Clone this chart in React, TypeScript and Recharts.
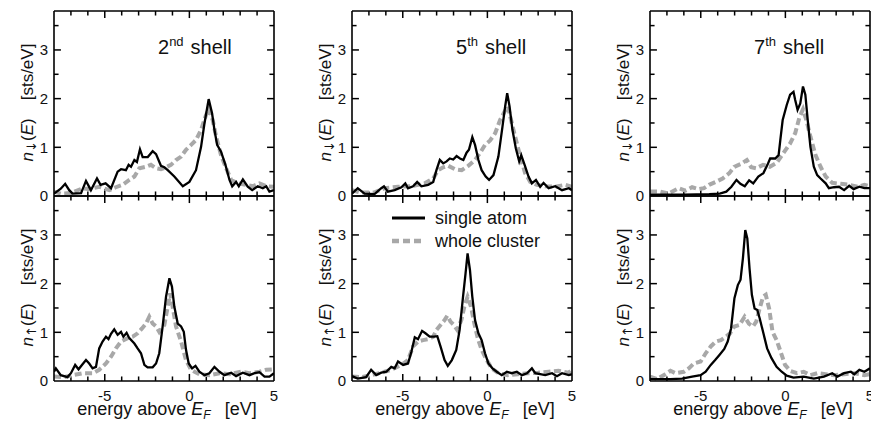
import React from 'react';
import { LineChart, Line, XAxis, YAxis, Legend, ReferenceLine } from 'recharts';

// energy axis (eV) and DOS axis (sts/eV) ticks
const xLabels = [-5, 0, 5];
const xTickMarks = [-7, -6, -5, -4, -3, -2, -1, 0, 1, 2, 3, 4];
const yLabels = [0, 1, 2, 3];
const yTickMarks = [0.5, 1, 1.5, 2, 2.5, 3, 3.5];
const shellNum = ['2', '5', '7'];
const shellSuffix = ['nd', 'th', 'th'];
const legendOrder = ['single atom', 'whole cluster'];

// [energy, n(E)]
const dn2Atom = [[-8,0.05],[-7.6,0.15],[-7.34,0.25],[-7.1,0.12],[-6.9,0.05],[-6.4,0.06],[-6.11,0.31],[-5.82,0.12],[-5.46,0.36],[-5.25,0.23],[-4.95,0.26],[-4.63,0.16],[-4.24,0.5],[-4.04,0.55],[-3.75,0.53],[-3.59,0.64],[-3.45,0.6],[-3.25,0.74],[-3.1,0.7],[-2.92,0.96],[-2.76,0.8],[-2.46,0.8],[-2.17,0.92],[-1.97,0.86],[-1.68,0.62],[-1.48,0.59],[-1.28,0.53],[-0.89,0.4],[-0.39,0.2],[0,0.29],[0.39,0.53],[0.69,1.01],[0.89,1.49],[1.14,1.99],[1.34,1.7],[1.48,1.36],[1.64,1.05],[1.87,0.91],[2.13,0.64],[2.37,0.33],[2.53,0.2],[2.76,0.29],[2.92,0.2],[3.16,0.34],[3.45,0.19],[3.71,0.12],[4.04,0.2],[4.34,0.16],[4.54,0.2],[4.73,0.09],[5,0.12]];
const dn2Cluster = [[-8,0.09],[-7.6,0.05],[-7.0,0.06],[-6.3,0.16],[-5.9,0.14],[-5.33,0.19],[-4.73,0.12],[-4.35,0.18],[-3.95,0.23],[-3.55,0.33],[-3.25,0.4],[-2.96,0.57],[-2.56,0.6],[-2.27,0.64],[-1.97,0.57],[-1.68,0.55],[-1.38,0.59],[-1.09,0.64],[-0.79,0.74],[-0.49,0.81],[-0.2,0.95],[0.1,1.05],[0.39,1.15],[0.69,1.36],[0.95,1.63],[1.14,1.8],[1.38,1.56],[1.58,1.22],[1.87,0.84],[2.17,0.57],[2.47,0.33],[2.86,0.26],[3.35,0.23],[3.75,0.2],[4.14,0.26],[4.54,0.2],[5,0.19]];
const up2Atom = [[-8,0.19],[-7.89,0.26],[-7.6,0.12],[-7.2,0.08],[-7.0,0.16],[-6.75,0.33],[-6.55,0.24],[-6.35,0.33],[-6.11,0.43],[-5.92,0.36],[-5.72,0.26],[-5.52,0.29],[-5.33,0.67],[-5.13,0.81],[-4.93,0.91],[-4.78,0.86],[-4.63,0.97],[-4.44,1.06],[-4.24,0.95],[-4.04,1.01],[-3.9,0.91],[-3.71,0.99],[-3.55,0.88],[-3.25,0.77],[-3.06,0.67],[-2.86,0.57],[-2.66,0.33],[-2.47,0.28],[-2.17,0.28],[-1.97,0.36],[-1.78,0.57],[-1.58,1.12],[-1.38,1.73],[-1.18,2.11],[-1.03,1.94],[-0.89,1.53],[-0.69,1.18],[-0.49,1.12],[-0.33,1.01],[-0.2,0.64],[-0.04,0.36],[0.16,0.26],[0.36,0.31],[0.59,0.19],[0.89,0.12],[1.18,0.16],[1.48,0.29],[1.78,0.19],[2.07,0.12],[2.47,0.17],[2.76,0.1],[3.16,0.17],[3.55,0.12],[3.85,0.16],[4.14,0.18],[4.44,0.09],[4.73,0.09],[5,0.16]];
const up2Cluster = [[-8,0.09],[-7.4,0.08],[-6.9,0.12],[-6.3,0.16],[-5.7,0.16],[-5.33,0.23],[-4.93,0.36],[-4.63,0.5],[-4.34,0.67],[-4.04,0.81],[-3.65,0.88],[-3.35,0.91],[-3.06,0.98],[-2.8,1.08],[-2.56,1.18],[-2.37,1.32],[-2.17,1.18],[-1.97,1.12],[-1.78,1.01],[-1.48,1.15],[-1.28,1.53],[-1.14,1.8],[-0.99,1.53],[-0.79,1.12],[-0.49,0.81],[-0.2,0.43],[0.1,0.23],[0.59,0.14],[1.18,0.12],[1.78,0.16],[2.37,0.14],[3.06,0.19],[3.55,0.16],[4.14,0.19],[4.54,0.23],[5,0.24]];

const dn5Atom = [[-8,0.05],[-7.66,0.16],[-7.26,0.05],[-6.67,0.04],[-6.27,0.16],[-6.11,0.2],[-5.88,0.09],[-5.48,0.12],[-5.08,0.18],[-4.85,0.26],[-4.69,0.16],[-4.39,0.2],[-4.15,0.29],[-3.9,0.2],[-3.5,0.23],[-3.2,0.29],[-3.01,0.53],[-2.81,0.74],[-2.61,0.67],[-2.41,0.71],[-2.22,0.77],[-2.02,0.75],[-1.82,0.82],[-1.62,0.77],[-1.42,0.74],[-1.23,0.89],[-1.09,0.95],[-0.89,1.21],[-0.73,1.05],[-0.53,0.74],[-0.34,0.53],[-0.1,0.4],[0.1,0.33],[0.36,0.43],[0.65,0.81],[0.89,1.42],[1.05,1.84],[1.17,2.11],[1.31,1.84],[1.48,1.36],[1.68,0.98],[1.88,0.71],[2.0,0.84],[2.2,0.64],[2.43,0.4],[2.63,0.26],[2.87,0.33],[3.12,0.19],[3.32,0.27],[3.62,0.16],[4.01,0.2],[4.41,0.12],[4.81,0.16],[5,0.12]];
const dn5Cluster = [[-8,0.12],[-7.5,0.07],[-6.7,0.07],[-6.07,0.16],[-5.28,0.19],[-4.49,0.2],[-3.7,0.26],[-3.2,0.36],[-2.91,0.53],[-2.61,0.59],[-2.31,0.62],[-1.92,0.55],[-1.52,0.53],[-1.13,0.62],[-0.73,0.74],[-0.44,0.88],[-0.14,1.05],[0.16,1.14],[0.46,1.29],[0.75,1.56],[1.01,1.73],[1.21,1.84],[1.4,1.56],[1.64,1.22],[1.94,0.81],[2.23,0.47],[2.53,0.29],[2.92,0.23],[3.42,0.2],[4.01,0.19],[4.6,0.23],[5,0.19]];
const up5Atom = [[-8,0.1],[-7.66,0.05],[-7.17,0.08],[-6.87,0.23],[-6.57,0.12],[-6.27,0.17],[-5.97,0.19],[-5.68,0.29],[-5.48,0.26],[-5.28,0.4],[-4.98,0.33],[-4.69,0.36],[-4.49,0.6],[-4.29,0.9],[-4.1,0.86],[-3.86,1.03],[-3.66,0.98],[-3.41,0.91],[-3.16,0.91],[-2.96,0.92],[-2.77,0.71],[-2.53,0.43],[-2.34,0.31],[-2.1,0.43],[-1.84,0.64],[-1.64,1.05],[-1.44,1.73],[-1.29,2.21],[-1.17,2.62],[-1.03,2.28],[-0.89,1.73],[-0.73,1.25],[-0.53,0.98],[-0.34,0.84],[-0.14,0.57],[0.06,0.36],[0.3,0.26],[0.55,0.19],[0.85,0.12],[1.15,0.19],[1.44,0.16],[1.74,0.19],[2.04,0.12],[2.34,0.16],[2.63,0.26],[2.83,0.16],[3.12,0.14],[3.42,0.12],[3.82,0.16],[4.11,0.1],[4.41,0.16],[4.81,0.12],[5,0.14]];
const up5Cluster = [[-8,0.09],[-7.4,0.08],[-6.87,0.12],[-6.27,0.17],[-5.68,0.23],[-5.08,0.33],[-4.69,0.43],[-4.39,0.71],[-4.1,0.81],[-3.8,0.84],[-3.5,0.86],[-3.2,0.91],[-3.01,1.05],[-2.77,1.15],[-2.53,1.25],[-2.37,1.34],[-2.18,1.22],[-1.98,1.15],[-1.78,1.05],[-1.54,1.25],[-1.34,1.56],[-1.17,1.73],[-0.97,1.53],[-0.77,1.18],[-0.57,0.88],[-0.34,0.64],[-0.04,0.43],[0.26,0.26],[0.65,0.16],[1.2,0.12],[1.8,0.14],[2.4,0.16],[3.0,0.17],[3.62,0.19],[4.2,0.21],[4.8,0.17],[5,0.23]];

const dn7Atom = [[-8,0.03],[-6,0.03],[-4.5,0.04],[-3.88,0.05],[-3.49,0.09],[-3.19,0.19],[-2.89,0.33],[-2.66,0.25],[-2.4,0.2],[-2.14,0.32],[-1.9,0.26],[-1.6,0.4],[-1.3,0.47],[-1.06,0.64],[-0.9,0.77],[-0.6,0.77],[-0.4,0.84],[-0.3,1.15],[-0.16,1.56],[0.08,1.87],[0.28,2.08],[0.48,2.14],[0.58,1.97],[0.72,1.77],[0.88,1.9],[1.04,2.25],[1.18,2.08],[1.32,1.56],[1.48,1.01],[1.68,0.6],[1.88,0.43],[2.08,0.36],[2.38,0.26],[2.57,0.16],[2.87,0.18],[3.17,0.19],[3.47,0.12],[3.77,0.21],[4.03,0.14],[4.37,0.19],[4.67,0.16],[5,0.16]];
const dn7Cluster = [[-8,0.09],[-7.4,0.09],[-6.9,0.05],[-6.31,0.16],[-5.91,0.11],[-5.51,0.18],[-5.11,0.14],[-4.81,0.16],[-4.51,0.23],[-4.11,0.29],[-3.71,0.36],[-3.31,0.47],[-3.02,0.6],[-2.62,0.66],[-2.28,0.74],[-2.02,0.59],[-1.72,0.57],[-1.32,0.64],[-0.92,0.6],[-0.52,0.68],[-0.12,0.88],[0.28,1.08],[0.58,1.29],[0.84,1.63],[1.04,1.78],[1.24,1.56],[1.48,1.22],[1.78,0.84],[2.08,0.6],[2.38,0.4],[2.77,0.27],[3.27,0.25],[3.77,0.23],[4.27,0.19],[4.67,0.23],[5,0.2]];
const up7Atom = [[-8,0.04],[-6.8,0.04],[-6.11,0.05],[-5.51,0.09],[-5.01,0.12],[-4.71,0.19],[-4.41,0.33],[-4.15,0.43],[-3.91,0.53],[-3.61,0.66],[-3.41,0.81],[-3.21,1.08],[-3.01,1.7],[-2.81,1.97],[-2.65,2.08],[-2.51,2.52],[-2.37,3.1],[-2.25,2.93],[-2.12,2.32],[-1.98,1.77],[-1.82,1.49],[-1.66,1.46],[-1.52,1.29],[-1.32,1.01],[-1.08,0.67],[-0.82,0.47],[-0.52,0.29],[-0.22,0.19],[0.08,0.11],[0.48,0.07],[1.08,0.09],[1.68,0.05],[2.28,0.09],[2.77,0.16],[3.07,0.09],[3.47,0.16],[3.87,0.19],[4.07,0.14],[4.37,0.23],[4.67,0.19],[5,0.26]];
const up7Cluster = [[-8,0.09],[-7.58,0.04],[-7.09,0.14],[-6.79,0.21],[-6.49,0.16],[-6.0,0.19],[-5.71,0.26],[-5.41,0.36],[-5.01,0.4],[-4.71,0.57],[-4.41,0.71],[-4.11,0.81],[-3.81,0.84],[-3.51,0.91],[-3.27,0.98],[-3.01,1.12],[-2.71,1.15],[-2.41,1.32],[-2.16,1.18],[-1.92,1.12],[-1.72,1.22],[-1.52,1.49],[-1.32,1.73],[-1.16,1.77],[-0.96,1.49],[-0.76,1.01],[-0.52,0.84],[-0.28,0.6],[-0.02,0.33],[0.28,0.21],[0.68,0.16],[1.08,0.19],[1.48,0.12],[1.88,0.16],[2.38,0.14],[2.87,0.12],[3.47,0.14],[4.07,0.16],[4.67,0.12],[5,0.14]];

const FONT = '"Liberation Sans", Arial, Helvetica, sans-serif';
const INK = '#111';
const GRAY = '#a8a8a8';
const PLOT_W = 220;
const COL_LEFT = [54, 352, 650];
const X_DOMAIN = [-8, 5];
const Y_DOMAIN = [0, 3.8];
const frame = { stroke: '#000', strokeWidth: 1.6 };
const tickFont = { fill: INK, fontSize: 15, fontFamily: FONT };
// inward tick lengths in axis units (about 7px major / 4.5px minor)
const X_TICK = { major: 0.41, minor: 0.27 };
const Y_TICK = { major: 0.145, minor: 0.093 };

const toRows = (pts: number[][]) => pts.map(([e, n]) => ({ e, n }));

// tick marks on all four sides, pointing into the frame
const tickSegments = () => {
  const segs: any[] = [];
  xTickMarks.forEach((v) => {
    const len = v % 5 === 0 ? Y_TICK.major : Y_TICK.minor;
    segs.push([{ x: v, y: Y_DOMAIN[0] }, { x: v, y: Y_DOMAIN[0] + len }]);
    segs.push([{ x: v, y: Y_DOMAIN[1] }, { x: v, y: Y_DOMAIN[1] - len }]);
  });
  yTickMarks.forEach((v) => {
    const len = Number.isInteger(v) ? X_TICK.major : X_TICK.minor;
    segs.push([{ x: X_DOMAIN[0], y: v }, { x: X_DOMAIN[0] + len, y: v }]);
    segs.push([{ x: X_DOMAIN[1], y: v }, { x: X_DOMAIN[1] - len, y: v }]);
  });
  return segs;
};
const segments = tickSegments();

const yLabel = (arrow: string) => (p: any) => {
  const { x, y, width, height } = p.viewBox;
  const bx = x + width - 27.5 + 6;
  const cy = y + height / 2 - 1;
  return (
    <text x={bx} y={cy} transform={`rotate(-90 ${bx} ${cy})`} textAnchor="middle" fontSize={17} fontFamily={FONT} fill={INK}>
      <tspan fontStyle="italic">n</tspan>
      <tspan fontSize={13} fontFamily="DejaVu Sans" dy={3}>{arrow}</tspan>
      <tspan dy={-3}>(</tspan>
      <tspan fontStyle="italic">E</tspan>
      <tspan>)</tspan>
      <tspan dx={18}>[sts/eV]</tspan>
    </text>
  );
};

const xLabel = (p: any) => {
  const { x, y, width } = p.viewBox;
  return (
    <text x={x + width / 2 + 3} y={y + 34} textAnchor="middle" fontSize={18} fontFamily={FONT} fill={INK}>
      <tspan>energy above</tspan>
      <tspan dx={5} fontStyle="italic">E</tspan>
      <tspan fontStyle="italic" fontSize={12} dy={4}>F</tspan>
      <tspan dx={14} dy={-4}>[eV]</tspan>
    </text>
  );
};

const titleLabel = (col: number) => (p: any) => {
  const { x, y } = p.viewBox;
  return (
    <text x={x + 104} y={y + 44} fontSize={20} fontFamily={FONT} fill={INK}>
      <tspan>{shellNum[col]}</tspan>
      <tspan fontSize={13} dy={-8}>{shellSuffix[col]}</tspan>
      <tspan dx={7} dy={8}>shell</tspan>
    </text>
  );
};

const seriesLook: Record<string, any> = {
  'single atom': { stroke: '#000', width: 3 },
  'whole cluster': { stroke: GRAY, width: 4.5, dash: '7 4' },
};

const renderLegend = (props: any) => {
  const items = [...(props.payload || [])].sort(
    (a: any, b: any) => legendOrder.indexOf(a.value) - legendOrder.indexOf(b.value)
  );
  return (
    <svg width={200} height={60}>
      {items.map((it: any, i: number) => {
        const look = seriesLook[it.value];
        const cy = 18 + i * 23;
        return (
          <g key={it.value}>
            <line x1={2} x2={35} y1={cy} y2={cy} stroke={look.stroke} strokeWidth={look.width} strokeDasharray={look.dash} />
            <text x={45} y={cy + 6} fontSize={18} fontFamily={FONT} fill={INK}>{it.value}</text>
          </g>
        );
      })}
    </svg>
  );
};

function Panel({ col, spin, atom, cluster, legend }: any) {
  const isTop = spin === 'dn';
  const left = COL_LEFT[col] - 62;
  const top = isTop ? 0 : 190;
  const height = isTop ? 210 : 232;
  const margin = isTop
    ? { top: 10, right: 7, bottom: 13, left: 0 }
    : { top: 5, right: 7, bottom: 0, left: 0 };
  const width = 62 + PLOT_W + 8;
  const xCommon = { type: 'number' as const, domain: X_DOMAIN, allowDataOverflow: true, interval: 0 as const, stroke: '#000', tickLine: false };
  const yCommon = { type: 'number' as const, domain: Y_DOMAIN, allowDataOverflow: true, interval: 0 as const, stroke: '#000', tickLine: false };
  return (
    <div style={{ position: 'absolute', left, top }}>
      <LineChart width={width} height={height} margin={margin}>
        <XAxis xAxisId="b" {...xCommon} dataKey="e" orientation="bottom" ticks={xLabels} height={isTop ? 1 : 41}
          tickSize={0} tickMargin={9} tick={isTop ? false : tickFont} axisLine={frame}
          label={isTop ? undefined : xLabel} />
        <XAxis xAxisId="t" {...xCommon} orientation="top" ticks={xLabels} height={1}
          tick={false} axisLine={frame} label={isTop ? titleLabel(col) : undefined} />
        <YAxis yAxisId="l" {...yCommon} ticks={yLabels} width={62}
          tickSize={0} tickMargin={6} tick={tickFont} axisLine={frame}
          label={yLabel(isTop ? '↓' : '↑')} />
        <YAxis yAxisId="r" {...yCommon} orientation="right" ticks={yLabels} width={1}
          tick={false} axisLine={frame} />
        {segments.map((seg, i) => (
          <ReferenceLine key={i} xAxisId="b" yAxisId="l" segment={seg} ifOverflow="visible"
            stroke="#000" strokeWidth={1.5} />
        ))}
        <Line xAxisId="b" yAxisId="l" data={toRows(cluster)} dataKey="n" name="whole cluster" type="linear"
          stroke={GRAY} strokeWidth={4} strokeDasharray="7 3.5" dot={false} isAnimationActive={false} />
        <Line xAxisId="b" yAxisId="l" data={toRows(atom)} dataKey="n" name="single atom" type="linear"
          stroke="#000" strokeWidth={2.3} dot={false} isAnimationActive={false} />
        {legend && (
          <Legend layout="vertical" align="center" verticalAlign="middle" content={renderLegend}
            wrapperStyle={{ left: 100, top: 10, width: 200, height: 60 }} />
        )}
      </LineChart>
    </div>
  );
}

export default function App() {
  return (
    <div style={{ position: 'absolute', left: 0, top: 0, width: 871, height: 422, overflow: 'hidden', background: '#fff', fontFamily: FONT }}>
      <Panel col={0} spin="dn" atom={dn2Atom} cluster={dn2Cluster} />
      <Panel col={1} spin="dn" atom={dn5Atom} cluster={dn5Cluster} />
      <Panel col={2} spin="dn" atom={dn7Atom} cluster={dn7Cluster} />
      <Panel col={0} spin="up" atom={up2Atom} cluster={up2Cluster} />
      <Panel col={1} spin="up" atom={up5Atom} cluster={up5Cluster} legend />
      <Panel col={2} spin="up" atom={up7Atom} cluster={up7Cluster} />
    </div>
  );
}
